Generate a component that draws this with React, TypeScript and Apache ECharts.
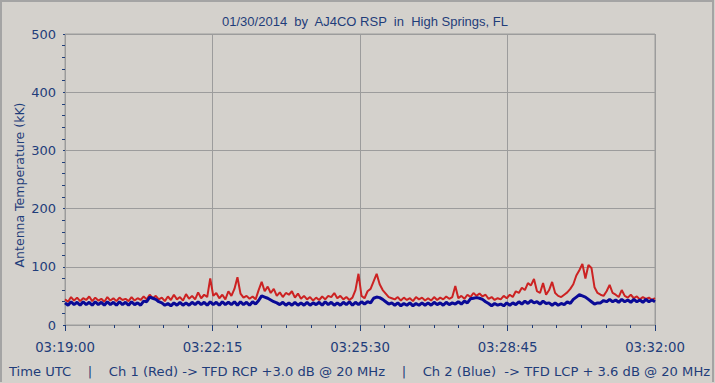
import React, { useEffect, useRef } from "react";
import * as echarts from "echarts";

const START_SECONDS = 3 * 3600 + 19 * 60; // 03:19:00
const SAMPLE_STEP = 4; // seconds between samples
const X_TICKS = ["03:19:00", "03:22:15", "03:25:30", "03:28:45", "03:32:00"];
const Y_TICKS = [0, 100, 200, 300, 400, 500];

const ch1Red = [
  44, 40, 48, 42, 47, 41, 46, 43, 49, 41,
  47, 42, 45, 40, 48, 42, 46, 41, 47, 43,
  45, 41, 48, 42, 46, 43, 49, 44, 52, 46,
  50, 44, 47, 41, 49, 43, 52, 44, 48, 42,
  53, 45, 50, 44, 56, 46, 52, 48, 80, 50,
  55, 46, 52, 44, 58, 50, 62, 82, 54, 47,
  50, 45, 49, 44, 60, 74, 58, 66, 55, 62,
  50, 56, 48, 55, 52, 58, 47, 54, 45, 50,
  44, 48, 42, 47, 43, 49, 44, 50, 48, 55,
  46, 50, 44, 48, 43, 47, 60, 88, 50, 46,
  58, 62, 75, 88, 70, 60, 54, 48, 46, 44,
  48, 42, 47, 43, 46, 41, 48, 44, 47, 42,
  46, 42, 48, 43, 47, 44, 49, 45, 48, 67,
  46, 50, 45, 52, 48, 55, 50, 54, 49, 52,
  45, 48, 43, 46, 44, 50, 46, 52, 48, 58,
  55, 64, 60, 72, 68, 79, 58, 55, 72, 52,
  60, 74, 55, 50, 48, 52, 56, 62, 70, 85,
  94, 105, 80, 103, 98, 65, 55, 52, 50, 58,
  69, 55, 52, 48, 60, 50, 47, 52, 46, 49,
  44, 48, 45, 47, 43, 46,
];

const ch2Blue = [
  38, 34, 40, 35, 39, 34, 40, 35, 39, 34,
  40, 35, 39, 34, 40, 35, 39, 34, 40, 35,
  39, 34, 40, 35, 38, 34, 41, 40, 48, 46,
  44, 40, 38, 34, 37, 33, 38, 34, 39, 34,
  38, 34, 39, 35, 40, 35, 39, 34, 40, 35,
  39, 34, 40, 35, 39, 35, 40, 34, 40, 35,
  39, 34, 40, 36, 42, 50, 48, 46, 43, 40,
  38, 35, 39, 34, 38, 34, 39, 34, 38, 34,
  39, 34, 38, 35, 39, 34, 40, 35, 39, 34,
  38, 34, 39, 35, 40, 34, 39, 35, 40, 36,
  40, 38, 46, 48, 47, 44, 40, 36, 38, 34,
  38, 33, 37, 34, 38, 33, 37, 34, 38, 34,
  38, 34, 39, 35, 38, 34, 39, 35, 38, 36,
  40, 36, 41, 38, 45, 46, 47, 46, 44, 40,
  37, 33, 37, 34, 36, 33, 38, 34, 38, 35,
  40, 36, 41, 37, 42, 38, 40, 36, 41, 37,
  38, 34, 38, 34, 37, 35, 40, 37, 44, 48,
  52, 50, 48, 44, 40, 36, 38, 38, 42, 40,
  44, 40, 43, 39, 44, 40, 43, 39, 44, 40,
  43, 39, 44, 40, 43, 40,
];

const TITLE = "01/30/2014  by  AJ4CO RSP  in  High Springs, FL";
const FOOTER =
  "Time UTC    |    Ch 1 (Red) -> TFD RCP +3.0 dB @ 20 MHz    |    Ch 2 (Blue)  -> TFD LCP + 3.6 dB @ 20 MHz";
const Y_NAME = "Antenna Temperature (kK)";

const TEXT = "#1f3d7a";
const BG = "#d4d1cc";
const GRID = "#9c9c9c";

function fmt(sec: number): string {
  const t = START_SECONDS + sec;
  const h = Math.floor(t / 3600);
  const m = Math.floor((t % 3600) / 60);
  const s = Math.round(t % 60);
  const p = (n: number) => String(n).padStart(2, "0");
  return `${p(h)}:${p(m)}:${p(s)}`;
}

export default function App() {
  const ref = useRef<HTMLDivElement>(null);
  useEffect(() => {
    if (!ref.current) return;
    const chart = echarts.init(ref.current, null, { renderer: "svg" });
    const toPairs = (arr: number[]) => arr.map((v, i) => [i * SAMPLE_STEP, v]);
    const xMax = 13 * 60;
    chart.setOption({
      animation: false,
      backgroundColor: BG,
      textStyle: { fontFamily: "DejaVu Sans" },
      title: {
        text: TITLE,
        left: 360,
        top: 10,
        textAlign: "center",
        textStyle: { color: TEXT, fontSize: 13, fontWeight: "normal", fontFamily: "Liberation Sans" },
      },
      graphic: [
        {
          type: "polyline",
          shape: { points: [[1, 382], [1, 1], [713, 1], [713, 382]] },
          style: { stroke: "#a4a4a4", lineWidth: 2, fill: "none" },
          silent: true,
        },
        {
          type: "text",
          left: 9,
          top: 365,
          style: { text: FOOTER, fill: TEXT, fontSize: 13.1, fontFamily: "DejaVu Sans" },
          silent: true,
        },
        {
          type: "text",
          x: 19,
          y: 185,
          rotation: Math.PI / 2,
          style: {
            text: Y_NAME,
            fill: TEXT,
            fontSize: 12.5,
            fontFamily: "DejaVu Sans",
            align: "center",
            verticalAlign: "middle",
          },
          silent: true,
        },
      ],
      grid: {
        left: 65,
        right: 60,
        top: 34,
        bottom: 58,
        show: true,
        borderColor: GRID,
        borderWidth: 1,
        backgroundColor: "transparent",
      },
      xAxis: {
        type: "value",
        min: 0,
        max: xMax,
        interval: 195,
        offset: 5,
        axisLine: { show: false },
        axisTick: { show: true, length: 6, lineStyle: { color: TEXT, width: 1 } },
        minorTick: { show: true, splitNumber: 6, length: 3, lineStyle: { color: TEXT, width: 1 } },
        splitLine: { show: true, lineStyle: { color: GRID, width: 1 } },
        axisLabel: {
          color: TEXT,
          fontSize: 13.3,
          margin: 11,
          fontFamily: "DejaVu Sans",
          formatter: (v: number) => X_TICKS[Math.round(v / 195)] ?? fmt(v),
        },
      },
      yAxis: {
        type: "value",
        min: Y_TICKS[0],
        max: Y_TICKS[Y_TICKS.length - 1],
        interval: 100,
        offset: 4,
        axisLine: { show: false },
        axisTick: { show: true, length: 2, lineStyle: { color: TEXT, width: 1 } },
        minorTick: { show: true, splitNumber: 5, length: 3, lineStyle: { color: TEXT, width: 1 } },
        splitLine: { show: true, lineStyle: { color: GRID, width: 1 } },
        axisLabel: { color: TEXT, fontSize: 13, margin: 5, fontFamily: "DejaVu Sans" },
      },
      series: [
        {
          name: "Ch 1 (Red)",
          type: "line",
          data: toPairs(ch1Red),
          showSymbol: false,
          lineStyle: { color: "#cc2222", width: 2 },
          itemStyle: { color: "#cc2222" },
          z: 2,
        },
        {
          name: "Ch 2 (Blue)",
          type: "line",
          data: toPairs(ch2Blue),
          showSymbol: false,
          lineStyle: { color: "#0a0a96", width: 3 },
          itemStyle: { color: "#0a0a96" },
          z: 3,
        },
      ],
    });
    return () => chart.dispose();
  }, []);
  return (
    <div
      ref={ref}
      style={{ position: "fixed", left: 0, top: 0, width: 715, height: 383 }}
    />
  );
}
